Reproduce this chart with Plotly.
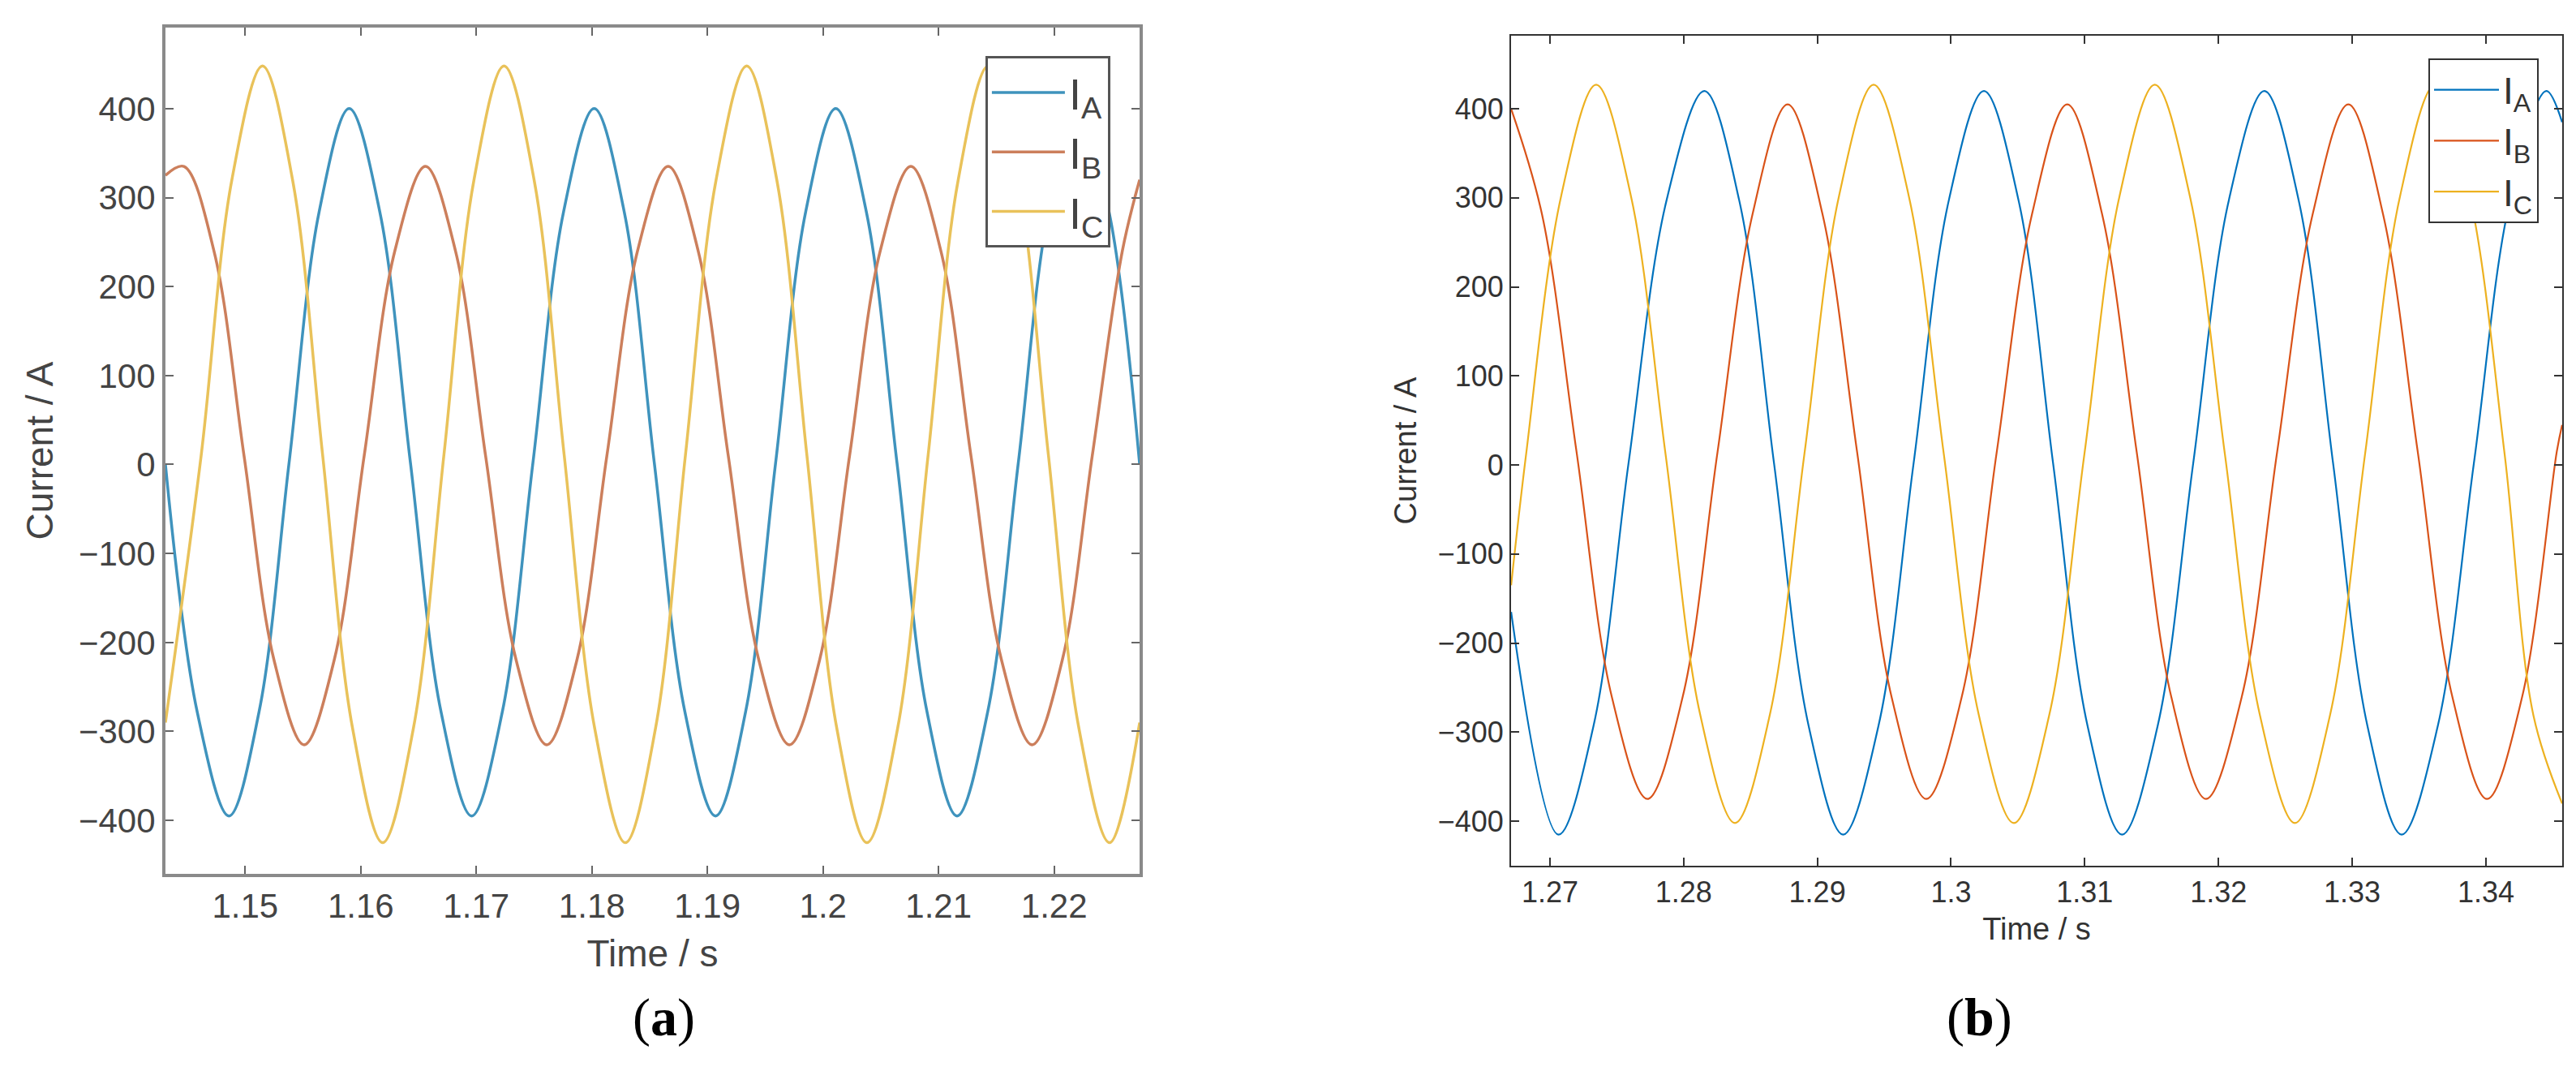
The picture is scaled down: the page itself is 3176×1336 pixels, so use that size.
import plotly.graph_objects as go

# ---------------- Panel (a) data ----------------
ta_A = [1.1431, 1.14585, 1.1486, 1.1512, 1.1538, 1.1564, 1.1590, 1.16165, 1.1643, 1.16695, 1.1696, 1.17225, 1.1749, 1.17755, 1.1802, 1.1828, 1.1854, 1.18805, 1.1907, 1.1933, 1.1959, 1.1985, 1.2011, 1.20375, 1.2064, 1.2090, 1.2116, 1.21425, 1.2169, 1.2195, 1.2221, 1.22475, 1.2274]
ia_A = [0, -278, -395, -278, 2, 284, 400, 284, 2, -278, -395, -278, 2, 284, 400, 284, 2, -278, -395, -278, 2, 284, 400, 284, 2, -278, -395, -278, 2, 284, 400, 284, 0]
ta_B = [1.1431, 1.1447, 1.1473, 1.1499, 1.1525, 1.1551, 1.1577, 1.1603, 1.16295, 1.1656, 1.1682, 1.1708, 1.17345, 1.1761, 1.1787, 1.1813, 1.18395, 1.1866, 1.1892, 1.1918, 1.19445, 1.1971, 1.1997, 1.2023, 1.20495, 1.2076, 1.2102, 1.2128, 1.21545, 1.2181, 1.2207, 1.2233, 1.2259, 1.2274]
ia_B = [325, 335, 240, 10, -220, -315, -220, 10, 240, 335, 240, 10, -220, -315, -220, 10, 240, 335, 240, 10, -220, -315, -220, 10, 240, 335, 240, 10, -220, -315, -220, 10, 240, 320]
ta_C = [1.1431, 1.1462, 1.14885, 1.1515, 1.1541, 1.1567, 1.1593, 1.1619, 1.16455, 1.1672, 1.1698, 1.1724, 1.1750, 1.1776, 1.18025, 1.1829, 1.1855, 1.1881, 1.19075, 1.1934, 1.1960, 1.1986, 1.2012, 1.2038, 1.20645, 1.2091, 1.2117, 1.2143, 1.2169, 1.2195, 1.22215, 1.2248, 1.2274]
ia_C = [-290, 11, 320, 448, 320, 11, -297, -425, -297, 11, 320, 448, 320, 11, -297, -425, -297, 11, 320, 448, 320, 11, -297, -425, -297, 11, 320, 448, 320, 11, -297, -425, -290]

# ---------------- Panel (b) data ----------------
tb_A = [1.2671, 1.27064, 1.27326, 1.27588, 1.27872, 1.28155, 1.28416, 1.28676, 1.28935, 1.29193, 1.29457, 1.29720, 1.29983, 1.30246, 1.30505, 1.30763, 1.31021, 1.31279, 1.31545, 1.31811, 1.32077, 1.32343, 1.32600, 1.32857, 1.33114, 1.33370, 1.33640, 1.33910, 1.34180, 1.34451, 1.3457]
ib_A = [-165, -415, -293, 2, 297, 420, 297, 2, -293, -415, -293, 2, 297, 420, 297, 2, -293, -415, -293, 2, 297, 420, 297, 2, -293, -415, -293, 2, 297, 420, 385]
tb_B = [1.2671, 1.2694, 1.27199, 1.27464, 1.27729, 1.27992, 1.28254, 1.28516, 1.28778, 1.29038, 1.29297, 1.29556, 1.29815, 1.30079, 1.30342, 1.30606, 1.30869, 1.31129, 1.31388, 1.31648, 1.31907, 1.32173, 1.32439, 1.32705, 1.32971, 1.33230, 1.33490, 1.33750, 1.34009, 1.34270, 1.34530, 1.3457]
ib_B = [400, 282, 15, -261, -375, -261, 15, 282, 405, 282, 15, -261, -375, -261, 15, 282, 405, 282, 15, -261, -375, -261, 15, 282, 405, 282, 15, -261, -375, -261, 15, 45]
tb_C = [1.2671, 1.26822, 1.27084, 1.27346, 1.27606, 1.27865, 1.28125, 1.28384, 1.28644, 1.28903, 1.29162, 1.29421, 1.29684, 1.29946, 1.30208, 1.30470, 1.30734, 1.30997, 1.31260, 1.31524, 1.31786, 1.32048, 1.32310, 1.32572, 1.32834, 1.33096, 1.33358, 1.33620, 1.33880, 1.34140, 1.34355, 1.3457]
ib_C = [-135, 12, 302, 427, 302, 12, -281, -402, -281, 12, 302, 427, 302, 12, -281, -402, -281, 12, 302, 427, 302, 12, -281, -402, -281, 12, 302, 427, 302, 12, -281, -380]

xticks_a = [1.15, 1.16, 1.17, 1.18, 1.19, 1.20, 1.21, 1.22]
xticks_b = [1.27, 1.28, 1.29, 1.30, 1.31, 1.32, 1.33, 1.34]
xticktext_a = ["1.15", "1.16", "1.17", "1.18", "1.19", "1.2", "1.21", "1.22"]
xticktext_b = ["1.27", "1.28", "1.29", "1.3", "1.31", "1.32", "1.33", "1.34"]
yticks = [-400, -300, -200, -100, 0, 100, 200, 300, 400]
names = ["I<sub>A</sub>", "I<sub>B</sub>", "I<sub>C</sub>"]

cols_a = ["#3f93bd", "#cc7f5c", "#e9c25a"]
cols_b = ["#0072BD", "#D95319", "#EDB120"]

fig = go.Figure()
for t, v, n, c in zip([ta_A, ta_B, ta_C], [ia_A, ia_B, ia_C], names, cols_a):
    fig.add_trace(go.Scatter(x=t, y=v, name=n, mode="lines", xaxis="x", yaxis="y",
                             line=dict(color=c, width=3.5, shape="spline", smoothing=1.0),
                             legend="legend"))
for t, v, n, c in zip([tb_A, tb_B, tb_C], [ib_A, ib_B, ib_C], names, cols_b):
    fig.add_trace(go.Scatter(x=t, y=v, name=n, mode="lines", xaxis="x2", yaxis="y2",
                             line=dict(color=c, width=2.2, shape="spline", smoothing=1.0),
                             legend="legend2"))

ax_common = dict(showgrid=False, zeroline=False, showline=True, mirror="ticks",
                 ticks="inside", ticklen=10, tickwidth=2)
fig.update_layout(
    width=3176, height=1336, margin=dict(l=0, r=0, t=0, b=0),
    plot_bgcolor="white", paper_bgcolor="white",
    font=dict(family="Liberation Sans, Arial", color="#333333"),
    xaxis=dict(domain=[0.0617, 0.4399], range=[1.1431, 1.2274], tickvals=xticks_a, ticktext=xticktext_a,
               linecolor="#8a8a8a", linewidth=4, tickcolor="#666", tickfont=dict(size=42, color="#444"),
               title=dict(text="Time / s", font=dict(size=46, color="#444"), standoff=20),
               anchor="y", **ax_common),
    yaxis=dict(domain=[0.1999, 0.9805], range=[-460, 491], tickvals=yticks,
               linecolor="#8a8a8a", linewidth=4, tickcolor="#666", tickfont=dict(size=42, color="#444"),
               title=dict(text="Current / A", font=dict(size=46, color="#444"), standoff=18),
               anchor="x", **ax_common),
    xaxis2=dict(domain=[0.5841, 0.9921], range=[1.2671, 1.3457], tickvals=xticks_b, ticktext=xticktext_b,
                linecolor="#333", linewidth=2, tickcolor="#333", tickfont=dict(size=36, color="#333"),
                title=dict(text="Time / s", font=dict(size=38, color="#333"), standoff=12),
                anchor="y2", **ax_common),
    yaxis2=dict(domain=[0.2073, 0.973], range=[-450, 482], tickvals=yticks,
                linecolor="#333", linewidth=2, tickcolor="#333", tickfont=dict(size=36, color="#333"),
                title=dict(text="Current / A", font=dict(size=38, color="#333"), standoff=14),
                anchor="x2", **ax_common),
    legend=dict(x=0.4285, y=0.954, xanchor="right", yanchor="top", bgcolor="white",
                bordercolor="#555", borderwidth=3, font=dict(size=54, color="#444"),
                tracegroupgap=0, itemwidth=90),
    legend2=dict(x=0.983, y=0.952, xanchor="right", yanchor="top", bgcolor="white",
                 bordercolor="#333", borderwidth=2, font=dict(size=46, color="#333"),
                 tracegroupgap=0, itemwidth=80),
    annotations=[
        dict(text="(<b>a</b>)", x=770 / 3176, y=1 - 1285 / 1336, xref="paper", yref="paper",
             showarrow=False, font=dict(family="Liberation Serif", size=66, color="black")),
        dict(text="(<b>b</b>)", x=2475 / 3176, y=1 - 1285 / 1336, xref="paper", yref="paper",
             showarrow=False, font=dict(family="Liberation Serif", size=66, color="black")),
    ],
)
fig.write_html("out.html")
